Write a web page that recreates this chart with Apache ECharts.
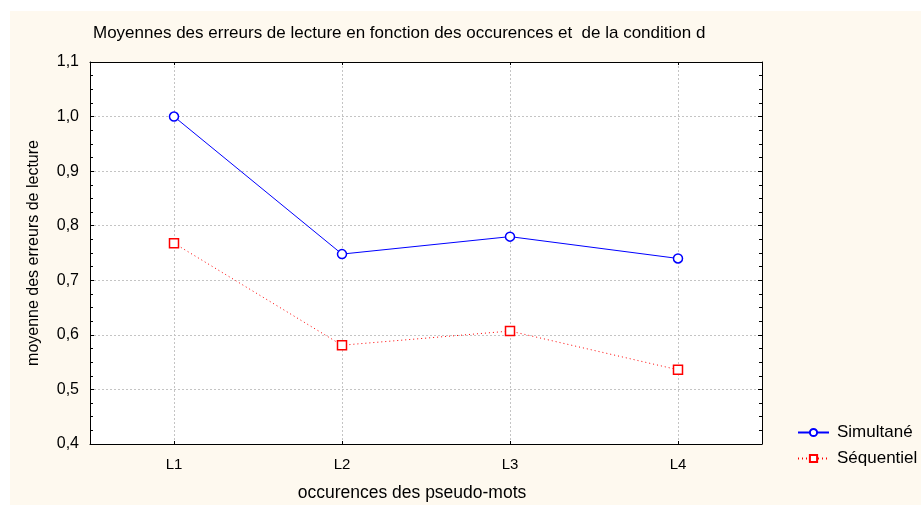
<!DOCTYPE html>
<html>
<head>
<meta charset="utf-8">
<script src="https://cdn.jsdelivr.net/npm/echarts@6/dist/echarts.min.js"></script>
<style>
html,body{margin:0;padding:0;background:#ffffff;overflow:hidden;}
#c{width:921px;height:505px;}
</style>
</head>
<body>
<div id="c"></div>
<script>
const categories = ['L1', 'L2', 'L3', 'L4'];
const simultane = [1.0, 0.748, 0.780, 0.740];
const sequentiel = [0.768, 0.581, 0.607, 0.536];
const yMin = 0.4, yMax = 1.1, yStep = 0.1;
const titleText = 'Moyennes des erreurs de lecture en fonction des occurences et  de la condition d';
const xName = 'occurences des pseudo-mots';
const yName = 'moyenne des erreurs de lecture';
const seriesNames = ['Simultané', 'Séquentiel'];

const FONT = 'Arial, "Liberation Sans", sans-serif';
const chart = echarts.init(document.getElementById('c'));
const fmt = v => v.toFixed(1).replace('.', ',');
const gridLine = {color: '#c4c4c4', type: [2, 2], width: 1};
// helper slots for vertical grid lines at category centres (2 slots per category)
const halfSlots = Array.from({length: categories.length * 2 + 1}, (_, i) => String(i));
const G = {left: 90, right: 159, top: 62, bottom: 61};
const H = chart.getHeight(), W = chart.getWidth();

chart.setOption({
  animation: false,
  backgroundColor: '#ffffff',
  graphic: [{
    type: 'rect', z: -10, silent: true,
    shape: {x: 10, y: 11, width: W - 10, height: H - 11},
    style: {fill: '#fef9ef'}
  }, {
    type: 'rect', z: -9, silent: true,
    shape: {x: G.left, y: G.top, width: W - G.left - G.right, height: H - G.top - G.bottom},
    style: {fill: '#ffffff'}
  }],
  title: {
    text: titleText, left: 88, top: 20,
    textStyle: {fontFamily: FONT, fontSize: 17, fontWeight: 'normal', color: '#000'}
  },
  grid: {left: G.left, right: G.right, top: G.top, bottom: G.bottom, containLabel: false, outerBoundsMode: 'none'},
  legend: {
    orient: 'vertical', left: 792, top: 419, itemWidth: 31, itemHeight: 9, itemGap: 9,
    data: seriesNames,
    textStyle: {fontFamily: FONT, fontSize: 17, color: '#000', padding: [0, 0, 0, 3]}
  },
  xAxis: [{
    type: 'category', data: categories, boundaryGap: true,
    axisLine: {lineStyle: {color: '#000', width: 1}},
    axisTick: {show: true, inside: true, length: 3, alignWithLabel: true, lineStyle: {color: '#000'}},
    axisLabel: {fontFamily: FONT, fontSize: 15, color: '#000', margin: 13},
    splitLine: {show: false},
    name: xName, nameLocation: 'middle', nameGap: 40,
    nameTextStyle: {fontFamily: FONT, fontSize: 17.5, color: '#000', padding: [0, 28, 0, 0]}
  }, {
    type: 'category', data: categories, boundaryGap: true, position: 'top',
    axisLine: {lineStyle: {color: '#000', width: 1}},
    axisTick: {show: true, inside: true, length: 3, alignWithLabel: true, lineStyle: {color: '#000'}},
    axisLabel: {show: false}, splitLine: {show: false}
  }, {
    type: 'category', data: halfSlots, boundaryGap: false, position: 'bottom',
    axisLine: {show: false}, axisTick: {show: false}, axisLabel: {show: false},
    splitLine: {show: true, interval: (i) => i % 2 === 1, lineStyle: gridLine}
  }],
  yAxis: [{
    type: 'value', min: yMin, max: yMax, interval: yStep,
    axisLine: {show: true, lineStyle: {color: '#000', width: 1}},
    axisTick: {show: true, inside: true, length: 4, lineStyle: {color: '#000'}},
    minorTick: {show: true, splitNumber: 4, length: 3, lineStyle: {color: '#000'}},
    axisLabel: {fontFamily: FONT, fontSize: 16, color: '#000', margin: 11, formatter: fmt},
    splitLine: {show: true, lineStyle: gridLine},
    name: yName, nameLocation: 'middle', nameGap: 48, nameRotate: 90,
    nameTextStyle: {fontFamily: FONT, fontSize: 16, color: '#000'}
  }, {
    type: 'value', min: yMin, max: yMax, interval: yStep, position: 'right',
    axisLine: {show: true, lineStyle: {color: '#000', width: 1}},
    axisTick: {show: true, inside: true, length: 4, lineStyle: {color: '#000'}},
    minorTick: {show: true, splitNumber: 4, length: 3, lineStyle: {color: '#000'}},
    axisLabel: {show: false}, splitLine: {show: false}
  }],
  series: [{
    name: seriesNames[0], type: 'line', data: simultane,
    symbol: 'circle', symbolSize: 9, showAllSymbol: true,
    itemStyle: {color: '#ffffff', borderColor: '#0000ff', borderWidth: 1.5},
    lineStyle: {color: '#0000ff', width: 1}
  }, {
    name: seriesNames[1], type: 'line', data: sequentiel,
    symbol: 'rect', symbolSize: 9, showAllSymbol: true,
    itemStyle: {color: '#ffffff', borderColor: '#ff0000', borderWidth: 1.5},
    lineStyle: {color: '#ff0000', width: 1, type: [1, 3]}
  }]
});
</script>
</body>
</html>
